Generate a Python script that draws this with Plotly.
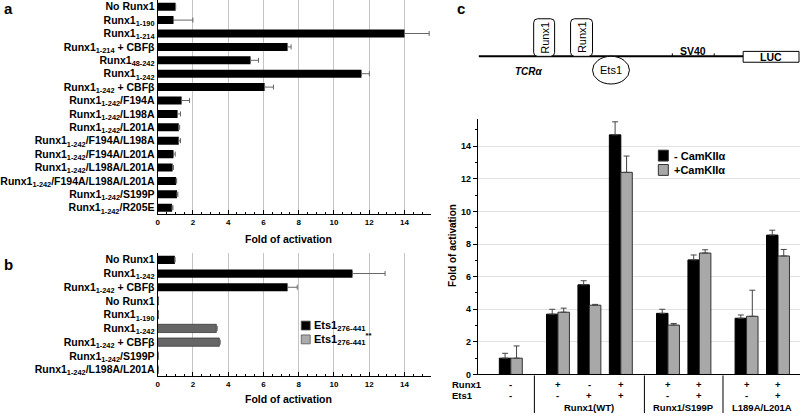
import plotly.graph_objects as go

# ---------------- data ----------------
a_labels = ["No Runx1", "Runx1<sub>1-190</sub>", "Runx1<sub>1-214</sub>", "Runx1<sub>1-214</sub> + CBFβ",
            "Runx1<sub>48-242</sub>", "Runx1<sub>1-242</sub>", "Runx1<sub>1-242</sub> + CBFβ",
            "Runx1<sub>1-242</sub>/F194A", "Runx1<sub>1-242</sub>/L198A", "Runx1<sub>1-242</sub>/L201A",
            "Runx1<sub>1-242</sub>/F194A/L198A", "Runx1<sub>1-242</sub>/F194A/L201A",
            "Runx1<sub>1-242</sub>/L198A/L201A", "Runx1<sub>1-242</sub>/F194A/L198A/L201A",
            "Runx1<sub>1-242</sub>/S199P", "Runx1<sub>1-242</sub>/R205E"]
a_values = [1.02, 0.9, 14.0, 7.37, 5.27, 11.56, 6.07, 1.36, 1.13, 1.2, 1.2, 0.9, 0.85, 1.05, 1.1, 0.82]
a_err = [0.0, 1.1, 1.4, 0.2, 0.45, 0.45, 0.5, 0.45, 0.17, 0.05, 0.1, 0.1, 0.05, 0.03, 0.05, 0.05]

b_labels = ["No Runx1", "Runx1<sub>1-242</sub>", "Runx1<sub>1-242</sub> + CBFβ",
            "No Runx1", "Runx1<sub>1-190</sub>", "Runx1<sub>1-242</sub>", "Runx1<sub>1-242</sub> + CBFβ",
            "Runx1<sub>1-242</sub>/S199P", "Runx1<sub>1-242</sub>/L198A/L201A"]
b_black_rows = [0, 1, 2]
b_black_values = [0.98, 11.05, 7.37]
b_black_err = [0.0, 1.85, 0.55]
b_gray_rows = [3, 4, 5, 6, 7, 8]
b_gray_values = [0.05, 0.05, 3.33, 3.5, 0.03, 0.03]
b_gray_err = [0.0, 0.0, 0.05, 0.05, 0.0, 0.0]
b_series = ["Ets1<sub>276-441</sub>", "Ets1<sub>276-441</sub><sup>**</sup>"]

c_pos = [0, 1.5, 2.5, 3.5, 5, 6, 7.5, 8.5]
c_runx1 = ["-", "+", "-", "+", "+", "+", "+", "+"]
c_ets1 = ["-", "-", "+", "+", "-", "+", "-", "+"]
c_minus = [1.0, 3.7, 5.5, 14.7, 3.75, 7.03, 3.45, 8.55]
c_minus_err = [0.3, 0.3, 0.25, 0.8, 0.25, 0.3, 0.2, 0.3]
c_plus = [1.0, 3.82, 4.25, 12.4, 3.03, 7.45, 3.57, 7.27]
c_plus_err = [0.75, 0.25, 0.05, 1.0, 0.1, 0.2, 1.6, 0.4]
c_groups = ["Runx1(WT)", "Runx1/S199P", "L189A/L201A"]
c_group_centers = [2.5, 5.5, 8.0]
c_separators = [0.75, 4.25, 6.75]
c_series = ["- CamKIIα", "+CamKIIα"]

# ---------------- helpers ----------------
W, H = 800, 419
FONT = "Liberation Sans"


def fx(x):
    return x / W


def fy(y):
    return 1 - y / H


fig = go.Figure()

# panel a
fig.add_trace(go.Bar(
    x=a_values, y=list(range(len(a_labels))), orientation="h", width=0.6,
    marker=dict(color="black", line=dict(width=0)),
    error_x=dict(type="data", array=a_err, arrayminus=[0] * len(a_err), symmetric=False,
                 color="#666", thickness=1, width=2.5),
    xaxis="x", yaxis="y", showlegend=False, hoverinfo="skip"))

# panel b
fig.add_trace(go.Bar(
    x=b_black_values, y=b_black_rows, orientation="h", width=0.6,
    marker=dict(color="black", line=dict(width=0)),
    error_x=dict(type="data", array=b_black_err, arrayminus=[0] * 3, symmetric=False,
                 color="#666", thickness=1, width=2.5),
    xaxis="x2", yaxis="y2", showlegend=False, hoverinfo="skip"))
fig.add_trace(go.Bar(
    x=b_gray_values, y=b_gray_rows, orientation="h", width=0.6,
    marker=dict(color="#666666", line=dict(width=0.8, color="#3a3a3a")),
    error_x=dict(type="data", array=b_gray_err, arrayminus=[0] * 6, symmetric=False,
                 color="#666", thickness=1, width=2.5),
    xaxis="x2", yaxis="y2", showlegend=False, hoverinfo="skip"))

# panel c
bw = 0.365
fig.add_trace(go.Bar(
    x=c_pos, y=c_minus, width=bw, offset=-bw,
    marker=dict(color="black", line=dict(width=1, color="black")),
    error_y=dict(type="data", array=c_minus_err, arrayminus=[0] * 8, symmetric=False,
                 color="#444", thickness=1, width=3),
    xaxis="x3", yaxis="y3", showlegend=False, hoverinfo="skip"))
fig.add_trace(go.Bar(
    x=c_pos, y=c_plus, width=bw, offset=0,
    marker=dict(color="#a8a8a8", line=dict(width=1, color="#333")),
    error_y=dict(type="data", array=c_plus_err, arrayminus=[0] * 8, symmetric=False,
                 color="#444", thickness=1, width=3),
    xaxis="x3", yaxis="y3", showlegend=False, hoverinfo="skip"))

tickbold = dict(family=FONT, size=8, color="black", weight="bold")
labbold = dict(family=FONT, size=10.5, color="black", weight="bold")

xcommon = dict(range=[0, 15.5], showline=True, linecolor="black", linewidth=1,
               showgrid=True, gridcolor="#c4c4c4", gridwidth=1, dtick=2, tick0=0,
               ticks="inside", ticklen=4, tickcolor="black", tickfont=tickbold,
               minor=dict(dtick=0.5, ticks="inside", ticklen=2, tickcolor="black", showgrid=False),
               zeroline=False, fixedrange=True)

fig.update_layout(
    width=W, height=H, margin=dict(l=0, r=0, t=0, b=0),
    paper_bgcolor="white", plot_bgcolor="white", barmode="overlay",
    font=dict(family=FONT, color="black"),
    xaxis=dict(domain=[fx(156), fx(430)], anchor="y", **xcommon),
    yaxis=dict(domain=[fy(217), fy(0)], range=[len(a_labels) - 0.5, -0.5], anchor="x",
               tickvals=list(range(len(a_labels))), ticktext=a_labels, showline=True,
               linecolor="black", ticks="", showgrid=False, zeroline=False, tickfont=labbold),
    xaxis2=dict(domain=[fx(156), fx(430)], anchor="y2", **xcommon),
    yaxis2=dict(domain=[fy(381), fy(256)], range=[len(b_labels) - 0.5, -0.5], anchor="x2",
                tickvals=list(range(len(b_labels))), ticktext=b_labels, showline=True,
                linecolor="black", ticks="", showgrid=False, zeroline=False, tickfont=labbold),
    xaxis3=dict(domain=[fx(477), 1.0], range=[-1.05, 9.2], anchor="y3", showline=True,
                linecolor="black", linewidth=1, showticklabels=False, ticks="", showgrid=False,
                zeroline=False),
    yaxis3=dict(domain=[fy(379), fy(120)], range=[0, 15.7], anchor="x3", showline=True,
                linecolor="black", linewidth=1, dtick=2, tick0=0, ticks="outside", ticklen=4,
                tickcolor="black", tickfont=dict(family=FONT, size=9, color="black", weight="bold"),
                minor=dict(dtick=1, ticks="outside", ticklen=2, tickcolor="black", showgrid=False),
                showgrid=True, gridcolor="#e2e2e2", zeroline=False),
)

ann = []
shapes = []


def text(x, y, s, size=10, bold=True, italic=False, xanchor="center", angle=0, xref="paper"):
    ann.append(dict(x=x if xref != "paper" else fx(x), y=fy(y), xref=xref, yref="paper", text=s,
                    showarrow=False, xanchor=xanchor, yanchor="middle", textangle=angle,
                    font=dict(family=FONT, size=size, color="black",
                              weight="bold" if bold else "normal",
                              style="italic" if italic else "normal")))


# panel letters
text(7, 9, "a", size=15)
text(7, 268, "b", size=15)
text(460, 9, "c", size=15)

# axis titles
text(287, 242, "Fold of activation", size=10.5)
text(287, 404, "Fold of activation", size=10.5)
text(451, 248, "Fold of activation", size=10, angle=-90)

# legend b
b_colors = ["black", "#ababab"]
for i, (name, col) in enumerate(zip(b_series, b_colors)):
    yc = 329.5 + 14 * i
    shapes.append(dict(type="rect", xref="paper", yref="paper", x0=fx(300), x1=fx(309),
                       y0=fy(yc + 4.5), y1=fy(yc - 4.5), fillcolor=col,
                       line=dict(color="#555", width=0.8)))
    text(311, yc, name, size=11, xanchor="left")

# legend c
c_colors = ["black", "#a8a8a8"]
for i, (name, col) in enumerate(zip(c_series, c_colors)):
    yc = 157.5 + 14.5 * i
    shapes.append(dict(type="rect", xref="paper", yref="paper", x0=fx(658), x1=fx(668),
                       y0=fy(yc + 5.5), y1=fy(yc - 5.5), fillcolor=col,
                       line=dict(color="#333", width=1)))
    text(672, yc, name, size=11, xanchor="left")

# panel c condition rows
text(449, 389, "Runx1", size=9.5, xanchor="left")
text(449, 400, "Ets1", size=9.5, xanchor="left")
for p, r, e in zip(c_pos, c_runx1, c_ets1):
    text(p, 389, r, size=9.5, xref="x3")
    text(p, 400, e, size=9.5, xref="x3")
for g, gc in zip(c_groups, c_group_centers):
    text(gc, 412, g, size=9.5, xref="x3")
for s in c_separators:
    shapes.append(dict(type="line", xref="x3", yref="paper", x0=s, x1=s, y0=fy(380), y1=fy(418),
                       line=dict(color="black", width=1)))

# promoter diagram
shapes.append(dict(type="line", xref="paper", yref="paper", x0=fx(478), x1=fx(743),
                   y0=fy(57), y1=fy(57), line=dict(color="black", width=2)))
for xt in (672, 714):
    shapes.append(dict(type="line", xref="paper", yref="paper", x0=fx(xt), x1=fx(xt),
                       y0=fy(54), y1=fy(57), line=dict(color="black", width=1)))


def rounded(x0, y0, x1, y1, r=4):
    X0, X1 = fx(x0), fx(x1)
    Y0, Y1 = fy(y0), fy(y1)
    rx, ry = r / W, r / H
    return (f"M {X0+rx},{Y0} L {X1-rx},{Y0} Q {X1},{Y0} {X1},{Y0-ry} L {X1},{Y1+ry} "
            f"Q {X1},{Y1} {X1-rx},{Y1} L {X0+rx},{Y1} Q {X0},{Y1} {X0},{Y1+ry} "
            f"L {X0},{Y0-ry} Q {X0},{Y0} {X0+rx},{Y0} Z")


for (x0, x1) in ((533, 554), (570, 592)):
    shapes.append(dict(type="path", xref="paper", yref="paper", path=rounded(x0, 19, x1, 57),
                       fillcolor="white", line=dict(color="black", width=1)))
    text((x0 + x1) / 2, 38, "Runx1", size=11, bold=False, angle=-90)

shapes.append(dict(type="circle", xref="paper", yref="paper", x0=fx(592), x1=fx(629),
                   y0=fy(85), y1=fy(57), fillcolor="white", line=dict(color="black", width=1)))
text(610.5, 71, "Ets1", size=11, bold=False)
text(528, 72, "TCRα", size=10, bold=True, italic=True)
text(693, 52, "SV40", size=10.5)
shapes.append(dict(type="rect", xref="paper", yref="paper", x0=fx(743), x1=fx(799),
                   y0=fy(63), y1=fy(52), fillcolor="white", line=dict(color="black", width=1)))
text(771, 57.5, "LUC", size=10.5)

fig.update_layout(annotations=ann, shapes=shapes)
fig.write_html("out.html", config={"displayModeBar": False, "staticPlot": True},
               post_script="document.body.style.margin='0px';document.body.style.padding='0px';")
